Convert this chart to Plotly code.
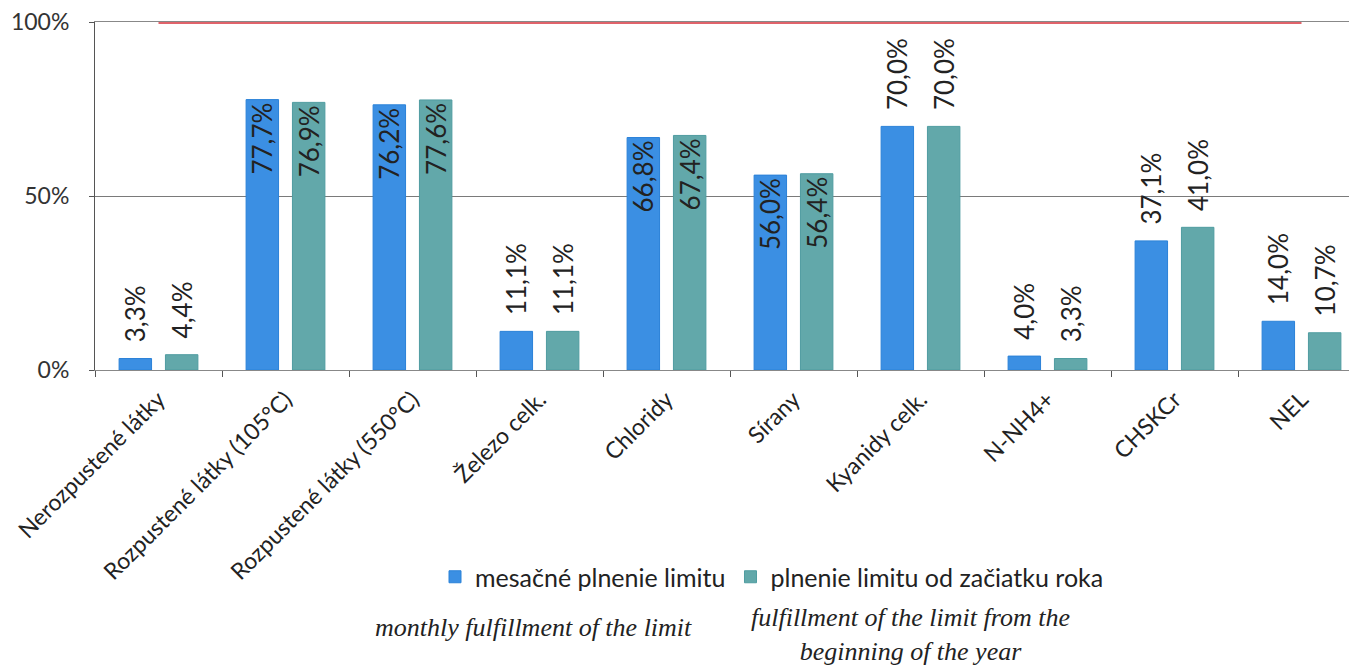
import plotly.graph_objects as go

categories = ["Nerozpustené látky", "Rozpustené látky (105°C)", "Rozpustené látky (550°C)",
              "Železo celk.", "Chloridy", "Sírany", "Kyanidy celk.", "N-NH4+", "CHSKCr", "NEL"]
monthly = [3.3, 77.7, 76.2, 11.1, 66.8, 56.0, 70.0, 4.0, 37.1, 14.0]
from_year_start = [4.4, 76.9, 77.6, 11.1, 67.4, 56.4, 70.0, 3.3, 41.0, 10.7]
limit = [100, 100, 100, 100, 100, 100, 100, 100, 100, 100]
monthly_textpos = ["outside", "inside", "inside", "outside", "inside", "inside", "outside", "outside", "outside", "outside"]
year_textpos = ["outside", "inside", "inside", "outside", "inside", "inside", "outside", "outside", "outside", "outside"]
y_ticks = [0, 50, 100]
y_tick_labels = ["0%", "50%", "100%"]

FONT = "Lato"
# page body has an 8px margin: figure pixel = screen pixel - 8
L, T, PW, PH = 87, 14, 1270, 348
W, H = 1357, 666


def px_x(sx):
    return (sx - 8 - L) / PW


def px_y(sy):
    return (T + PH - (sy - 8)) / PH


def tmpl(positions):
    return ["\u00a0\u00a0%{y:.1f}%" if p == "outside" else "%{y:.1f}%" for p in positions]


fig = go.Figure()
fig.add_trace(go.Bar(
    x=categories, y=monthly, name="mesačné plnenie limitu",
    marker=dict(color="#3b8fe3", line=dict(color="#2b82d8", width=1)),
    texttemplate=tmpl(monthly_textpos), textposition=monthly_textpos, textangle=-90,
    insidetextanchor="end", cliponaxis=False, constraintext="none",
    textfont=dict(family=FONT, size=26, color="#222"),
))
fig.add_trace(go.Bar(
    x=categories, y=from_year_start, name="plnenie limitu od začiatku roka",
    marker=dict(color="#62a8aa", line=dict(color="#4f9ca0", width=1)),
    texttemplate=tmpl(year_textpos), textposition=year_textpos, textangle=-90,
    insidetextanchor="end", cliponaxis=False, constraintext="none",
    textfont=dict(family=FONT, size=26, color="#222"),
))
fig.add_trace(go.Scatter(
    x=categories, y=limit, mode="lines", showlegend=False,
    line=dict(color="#e0636a", width=4), cliponaxis=False, hoverinfo="skip",
))

fig.update_layout(
    width=W, height=H,
    margin=dict(l=L, r=W - L - PW, t=T, b=H - T - PH, autoexpand=False),
    paper_bgcolor="white", plot_bgcolor="white",
    separators=",.",
    barmode="group", bargap=0.27, bargroupgap=0.30,
    font=dict(family=FONT, size=19, color="#333"),
    legend=dict(orientation="h", x=px_x(772), xanchor="center", y=px_y(577), yanchor="middle",
                font=dict(family=FONT, size=25, color="#222"),
                traceorder="normal"),
    xaxis=dict(range=[-0.5, 9.5], tickangle=-45, tickson="boundaries",
               ticks="outside", ticklen=6, tickcolor="#555", automargin=False,
               showline=True, linecolor="#888", linewidth=1, mirror=True,
               ticklabelstandoff=6, ticklabeloverflow="allow",
               tickfont=dict(family=FONT, size=23, color="#222"), showgrid=False),
    yaxis=dict(range=[0, 100], tickmode="array", tickvals=y_ticks, ticktext=y_tick_labels,
               showgrid=True, gridcolor="#7a7a7a", gridwidth=1, automargin=False,
               showline=True, linecolor="#555", linewidth=1,
               ticks="outside", ticklen=5, tickcolor="#555", ticklabelstandoff=15,
               ticklabeloverflow="allow",
               tickfont=dict(family=FONT, size=23, color="#333"), zeroline=False),
    annotations=[
        dict(text="<i>monthly fulfillment of the limit</i>", x=px_x(533), xref="paper",
             y=px_y(627), yref="paper", showarrow=False, xanchor="center", yanchor="middle",
             font=dict(family="Liberation Serif", size=26, color="#222")),
        dict(text="<i>fulfillment of the limit from the<br>beginning of the year</i>",
             x=px_x(910), xref="paper",
             y=px_y(634), yref="paper", showarrow=False, xanchor="center", yanchor="middle",
             font=dict(family="Liberation Serif", size=26, color="#222")),
    ],
)

fig.write_html("out.html")
